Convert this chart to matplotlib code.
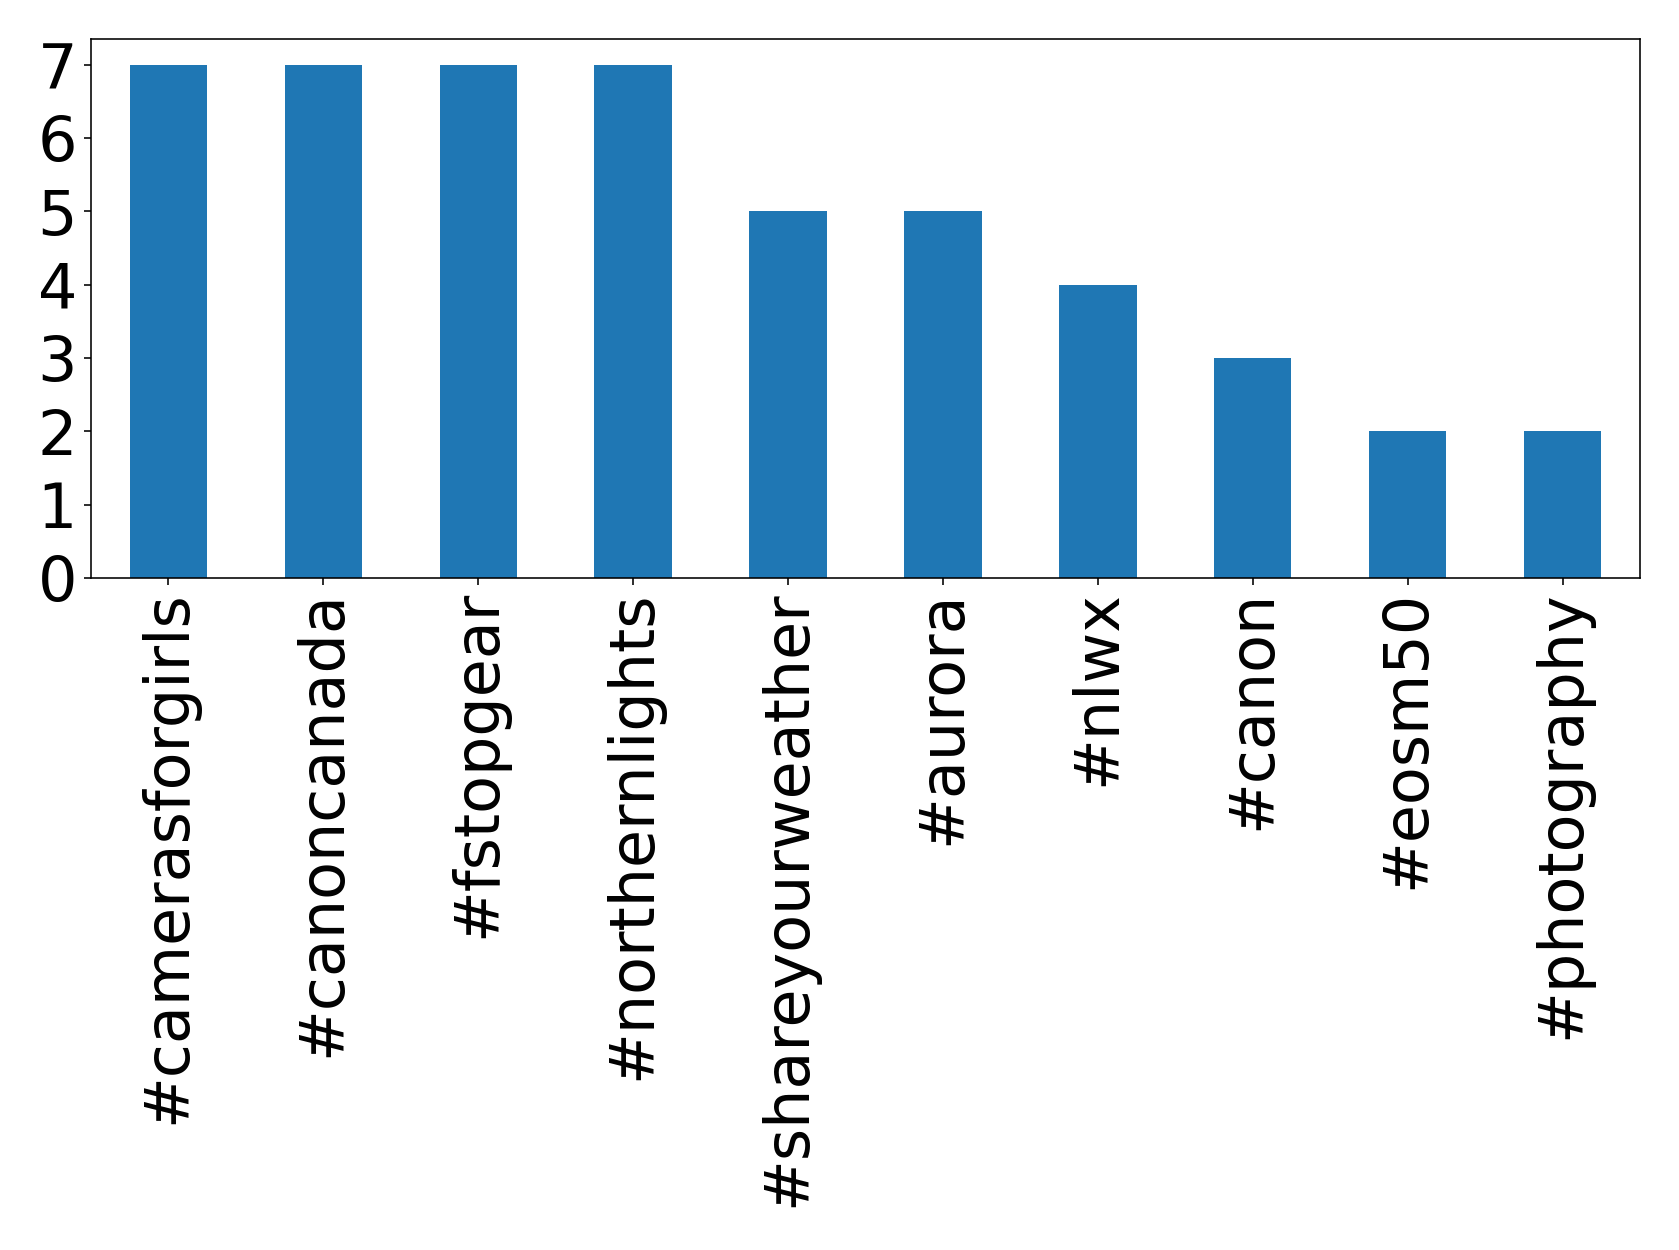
import matplotlib
matplotlib.use("Agg")
import matplotlib.pyplot as plt

categories = ["#camerasforgirls", "#canoncanada", "#fstopgear", "#northernlights",
              "#shareyourweather", "#aurora", "#nlwx", "#canon", "#eosm50", "#photography"]
counts = [7, 7, 7, 7, 5, 5, 4, 3, 2, 2]

dpi = 144
fig = plt.figure(figsize=(1679 / dpi, 1250 / dpi), dpi=dpi)
ax = fig.add_axes([91 / 1679, 1 - 578 / 1250, (1640 - 91) / 1679, (578 - 39) / 1250])
x = list(range(len(categories)))
ax.bar(x, counts, width=0.5, color="#1f77b4")
ax.set_xlim(-0.5, len(categories) - 0.5)
ax.set_ylim(0, 7.35)
ax.set_xticks(x)
ax.set_xticklabels(categories, rotation=90, fontsize=31)
ax.set_yticks(range(0, 8))
ax.tick_params(axis="y", labelsize=31)
ax.tick_params(axis="x", pad=2.5)
fig.savefig("out.png", dpi=dpi)
